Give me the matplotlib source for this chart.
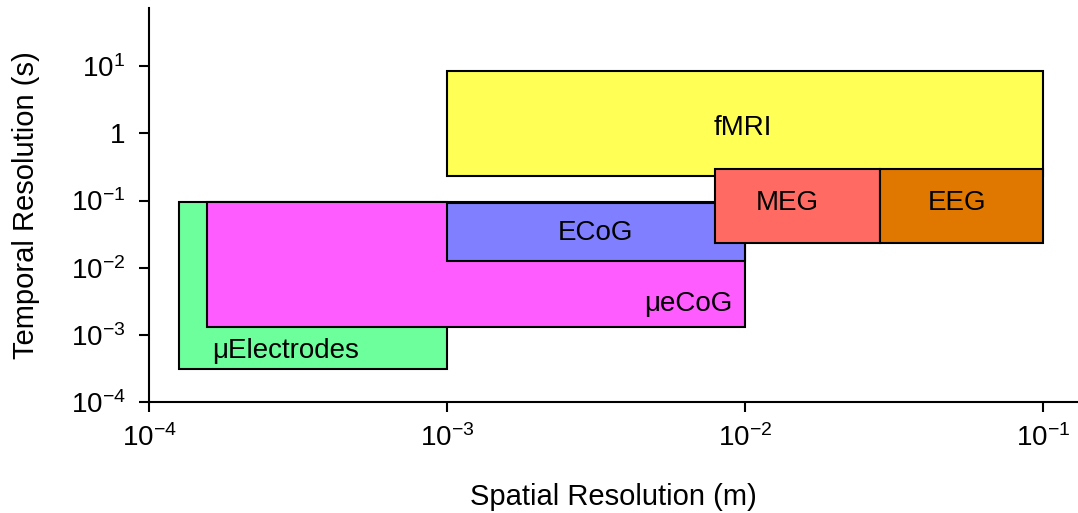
import math
import matplotlib
matplotlib.use("Agg")
import matplotlib.pyplot as plt
from matplotlib.patches import Rectangle
from matplotlib.ticker import FixedLocator, FuncFormatter, NullLocator

plt.rcParams['font.family'] = ['Liberation Sans', 'DejaVu Sans']
plt.rcParams['mathtext.fontset'] = 'custom'
plt.rcParams['mathtext.rm'] = 'Liberation Sans'
plt.rcParams['mathtext.it'] = 'Liberation Sans'

# methods, drawn in this order (later ones on top)
names = ["μElectrodes", "μeCoG", "ECoG", "fMRI", "MEG", "EEG"]
x_lo = [1.26e-4, 1.57e-4, 1e-3, 1e-3, 7.9e-3, 2.84e-2]
x_hi = [1e-3, 1e-2, 1e-2, 1e-1, 2.84e-2, 1e-1]
y_lo = [3.1e-4, 1.32e-3, 1.27e-2, 0.23, 0.0236, 0.0236]
y_hi = [0.095, 0.095, 0.093, 8.4, 0.30, 0.30]
colors = ["#6cff9c", "#ff5cff", "#7f7fff", "#ffff55", "#ff6b63", "#e07800"]

# label anchors
lab_x = [1.63e-4, 9.1e-3, 3.14e-3, 9.8e-3, 1.39e-2, 5.16e-2]
lab_y = [5.8e-4, 2.9e-3, 0.0333, 1.19, 0.093, 0.093]
lab_ha = ["left", "right", "center", "center", "center", "center"]

x_ticks = [1e-4, 1e-3, 1e-2, 1e-1]
y_ticks = [1e-4, 1e-3, 1e-2, 1e-1, 1, 10]


def fmt(v, pos):
    e = int(round(math.log10(v)))
    if e == 0:
        return "1"
    return r"$\mathregular{10^{%d}}$" % e


fig = plt.figure(figsize=(10.78, 5.13), dpi=100)
ax = fig.add_axes([0.1382, 0.2164, 0.8618, 0.7682])
ax.set_xscale("log")
ax.set_yscale("log")
ax.set_xlim(1e-4, 10 ** -0.883)
ax.set_ylim(1e-4, 10 ** 1.87)

for i in range(len(names)):
    ax.add_patch(Rectangle((x_lo[i], y_lo[i]), x_hi[i] - x_lo[i], y_hi[i] - y_lo[i],
                           facecolor=colors[i], edgecolor="black", linewidth=1.5))
    ax.text(lab_x[i], lab_y[i], names[i], ha=lab_ha[i], va="center", fontsize=20)

ax.xaxis.set_major_locator(FixedLocator(x_ticks))
ax.yaxis.set_major_locator(FixedLocator(y_ticks))
ax.xaxis.set_minor_locator(NullLocator())
ax.yaxis.set_minor_locator(NullLocator())
ax.xaxis.set_major_formatter(FuncFormatter(fmt))
ax.yaxis.set_major_formatter(FuncFormatter(fmt))

for s in ["top", "right"]:
    ax.spines[s].set_visible(False)
for s in ["left", "bottom"]:
    ax.spines[s].set_linewidth(1.5)
ax.tick_params(direction="out", length=7, width=1.5, labelsize=20)
ax.tick_params(axis="x", pad=9)
ax.tick_params(axis="y", pad=10)

ax.set_xlabel("Spatial Resolution (m)", fontsize=21)
ax.set_ylabel("Temporal Resolution (s)", fontsize=21)
ax.xaxis.set_label_coords(0.5, -0.205)
ax.yaxis.set_label_coords(-0.117, 0.5)

fig.savefig("out.png", dpi=100)
